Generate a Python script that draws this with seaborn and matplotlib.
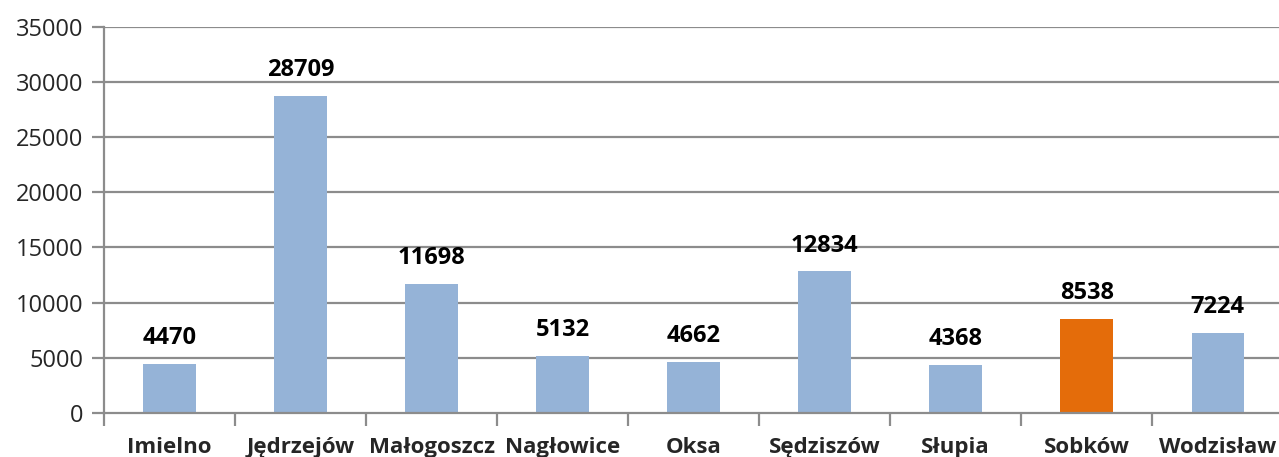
import matplotlib
matplotlib.use('Agg')
import matplotlib.pyplot as plt
import seaborn as sns
import pandas as pd

# Values
gminy = ['Imielno', 'Jędrzejów', 'Małogoszcz', 'Nagłowice', 'Oksa',
         'Sędziszów', 'Słupia', 'Sobków', 'Wodzisław']
wartosci = [4470, 28709, 11698, 5132, 4662, 12834, 4368, 8538, 7224]
wyroznione = 'Sobków'

y_ticks = [0, 5000, 10000, 15000, 20000, 25000, 30000, 35000]

df = pd.DataFrame({'gmina': gminy, 'wartosc': wartosci})
df['grupa'] = ['wyr' if g == wyroznione else 'zwykla' for g in gminy]

sns.set_style('white')
plt.rcParams['font.family'] = ['Open Sans', 'DejaVu Sans']

fig = plt.figure(figsize=(12.79, 4.57), dpi=100)
ax = fig.add_axes([0.0813, 0.0963, 0.922, 0.845])

grid_col = '#8c8c8c'
ax.set_axisbelow(True)
for t in y_ticks[1:]:
    ax.axhline(t, color=grid_col, lw=1.6, zorder=0)

sns.barplot(data=df, x='gmina', y='wartosc', hue='grupa',
            palette={'zwykla': '#95b3d7', 'wyr': '#e46c0a'}, saturation=1,
            width=0.4, dodge=False, legend=False, linewidth=0, ax=ax, zorder=2)

for c in ax.containers:
    ax.bar_label(c, fmt='%d', padding=10, fontsize=17, fontweight='bold',
                 color='black')

ax.set_ylim(0, 35000)
ax.set_xlim(-0.5, len(gminy) - 0.5)
ax.set_yticks(y_ticks)
ax.set_yticklabels([str(t) for t in y_ticks], fontsize=17)

# category boundaries as x ticks, labels in the middle
ax.set_xticks([i - 0.5 for i in range(len(gminy) + 1)])
ax.set_xticklabels([])
ax.set_xticks(range(len(gminy)), minor=True)
ax.set_xticklabels(gminy, minor=True, fontsize=16, fontweight='bold')
ax.tick_params(axis='x', which='major', length=9, width=1.6, color=grid_col,
               direction='out', bottom=True)
ax.tick_params(axis='x', which='minor', length=0, pad=17)
ax.tick_params(axis='y', length=9, width=1.6, color=grid_col, direction='out',
               left=True, pad=6)

ax.set_xlabel('')
ax.set_ylabel('')
for s in ['top', 'right']:
    ax.spines[s].set_visible(False)
for s in ['left', 'bottom']:
    ax.spines[s].set_color(grid_col)
    ax.spines[s].set_linewidth(1.6)

fig.savefig('out.png', dpi=100)
plt.close(fig)
